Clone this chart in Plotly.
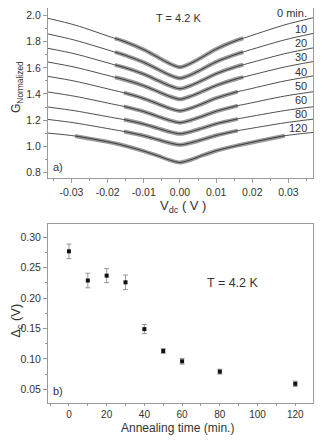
import plotly.graph_objects as go
from plotly.subplots import make_subplots

vdc = [-0.0365, -0.029, -0.018, -0.0155, -0.01, -0.006, -0.003, 0.0,
       0.003, 0.006, 0.01, 0.016, 0.0175, 0.029, 0.0368]

# normalized conductance, one curve per annealing time
times = ["0 min.", "10", "20", "30", "40", "50", "60", "80", "120"]
g_0 = [1.98, 1.928, 1.826, 1.804, 1.74, 1.68, 1.635, 1.605, 1.635, 1.68, 1.744, 1.814, 1.827, 1.93, 1.984]
g_10 = [1.86, 1.812, 1.721, 1.70, 1.642, 1.588, 1.547, 1.52, 1.547, 1.588, 1.646, 1.709, 1.722, 1.815, 1.864]
g_20 = [1.75, 1.707, 1.623, 1.604, 1.552, 1.502, 1.465, 1.44, 1.465, 1.502, 1.555, 1.613, 1.624, 1.709, 1.753]
g_30 = [1.645, 1.605, 1.528, 1.511, 1.463, 1.417, 1.383, 1.36, 1.383, 1.417, 1.465, 1.519, 1.529, 1.607, 1.648]
g_40 = [1.535, 1.498, 1.426, 1.41, 1.365, 1.323, 1.291, 1.27, 1.291, 1.323, 1.368, 1.418, 1.427, 1.50, 1.538]
g_50 = [1.415, 1.382, 1.319, 1.305, 1.265, 1.227, 1.199, 1.18, 1.199, 1.227, 1.267, 1.311, 1.319, 1.384, 1.417]
g_60 = [1.30, 1.271, 1.216, 1.204, 1.169, 1.136, 1.111, 1.095, 1.111, 1.136, 1.171, 1.209, 1.217, 1.273, 1.302]
g_80 = [1.205, 1.178, 1.125, 1.113, 1.08, 1.049, 1.026, 1.01, 1.026, 1.049, 1.082, 1.119, 1.126, 1.179, 1.207]
g_120 = [1.10, 1.078, 1.022, 1.005, 0.962, 0.925, 0.895, 0.875, 0.896, 0.927, 0.965, 1.006, 1.015, 1.08, 1.105]
curves = [g_0, g_10, g_20, g_30, g_40, g_50, g_60, g_80, g_120]
# index range of the grid covered by measured points
meas_range = [(2, 12), (2, 12), (2, 12), (2, 12), (3, 11), (3, 11), (3, 11), (3, 11), (1, 13)]
label_y = [2.023, 1.896, 1.789, 1.681, 1.571, 1.461, 1.354, 1.244, 1.137]

# panel b: gap vs annealing time
anneal = [0, 10, 20, 30, 40, 50, 60, 80, 120]
delta_c = [0.277, 0.229, 0.237, 0.226, 0.149, 0.113, 0.096, 0.079, 0.059]
delta_err = [0.012, 0.012, 0.0115, 0.012, 0.0075, 0.004, 0.0047, 0.004, 0.0044]

fnt = "Liberation Sans, Arial, sans-serif"
txt = "#333333"
axcol = "#9a9a9a"

fig = make_subplots(rows=2, cols=1)

for g, (i0, i1) in zip(curves, meas_range):
    fig.add_trace(go.Scatter(x=vdc[i0:i1 + 1], y=g[i0:i1 + 1], mode="lines",
                             line=dict(color="#9a9a9a", width=4, shape="spline", smoothing=0.8),
                             hoverinfo="skip"), row=1, col=1)
for g in curves:
    fig.add_trace(go.Scatter(x=vdc, y=g, mode="lines",
                             line=dict(color="#222222", width=0.8, shape="spline", smoothing=0.8)),
                  row=1, col=1)

fig.add_trace(go.Scatter(x=anneal, y=delta_c, mode="markers",
                         marker=dict(symbol="square", size=4, color="#111111"),
                         error_y=dict(type="data", array=delta_err, color="#8c8c8c",
                                      thickness=0.9, width=2.5)), row=2, col=1)

axis_common = dict(showline=True, linecolor=axcol, linewidth=1, mirror=True,
                   ticks="outside", ticklen=4, tickcolor=axcol, showgrid=False, zeroline=False,
                   tickfont=dict(family=fnt, size=10.5, color=txt))

fig.update_xaxes(axis_common)
fig.update_yaxes(axis_common)

fig.update_xaxes(range=[-0.0365, 0.0368], tickvals=[-0.03, -0.02, -0.01, 0.0, 0.01, 0.02, 0.03],
                 ticktext=["-0.03", "-0.02", "-0.01", "0.00", "0.01", "0.02", "0.03"],
                 minor=dict(ticks="outside", ticklen=2, tickcolor=axcol, dtick=0.005, tick0=0),
                 mirror=False, domain=[0, 1], row=1, col=1)
fig.update_yaxes(range=[0.756, 2.059], tickvals=[0.8, 1.0, 1.2, 1.4, 1.6, 1.8, 2.0],
                 ticktext=["0.8", "1.0", "1.2", "1.4", "1.6", "1.8", "2.0"],
                 minor=dict(ticks="outside", ticklen=2, tickcolor=axcol, dtick=0.1, tick0=0),
                 domain=[0.5696, 1.0], row=1, col=1)

fig.update_xaxes(range=[-11.1, 129.4], tickvals=[0, 20, 40, 60, 80, 100, 120],
                 minor=dict(ticks="outside", ticklen=2, tickcolor=axcol, dtick=10, tick0=0),
                 ticklen=2, tickfont=dict(family=fnt, size=10, color=txt),
                 domain=[0, 1], row=2, col=1)
fig.update_yaxes(range=[0.0274, 0.322], tickvals=[0.05, 0.10, 0.15, 0.20, 0.25, 0.30],
                 ticktext=["0.05", "0.10", "0.15", "0.20", "0.25", "0.30"],
                 minor=dict(ticks="outside", ticklen=2, tickcolor=axcol, dtick=0.025, tick0=0),
                 domain=[0.0, 0.4532], row=2, col=1)

ann = []
for name, y in zip(times, label_y):
    ann.append(dict(x=0.0358, y=y, xref="x", yref="y", text=name, showarrow=False,
                    xanchor="right", yanchor="middle",
                    font=dict(family=fnt, size=11, color=txt)))
ann.append(dict(x=-0.0005, y=1.98, xref="x", yref="y", text="T = 4.2 K", showarrow=False,
                font=dict(family=fnt, size=11, color=txt)))
ann.append(dict(x=-0.0337, y=0.84, xref="x", yref="y", text="a)", showarrow=False,
                font=dict(family=fnt, size=11, color=txt)))
ann.append(dict(x=87, y=0.2247, xref="x2", yref="y2", text="T = 4.2 K", showarrow=False,
                font=dict(family=fnt, size=12.5, color=txt)))
ann.append(dict(x=-5.8, y=0.0473, xref="x2", yref="y2", text="b)", showarrow=False,
                font=dict(family=fnt, size=11, color=txt)))
# axis titles
ann.append(dict(x=0.509, y=0.4987, xref="paper", yref="paper", text="V<sub>dc</sub> ( V )",
                showarrow=False, xanchor="center", yanchor="middle",
                font=dict(family=fnt, size=13, color=txt)))
ann.append(dict(x=0.49, y=-0.063, xref="paper", yref="paper", text="Annealing time (min.)",
                showarrow=False, xanchor="center", yanchor="middle",
                font=dict(family=fnt, size=12, color=txt)))
ann.append(dict(x=-0.117, y=0.80, xref="paper", yref="paper", text="G<sub>Normalized</sub>",
                showarrow=False, xanchor="center", yanchor="middle", textangle=-90,
                font=dict(family=fnt, size=12, color=txt)))
ann.append(dict(x=-0.117, y=0.208, xref="paper", yref="paper", text="Δ<sub>c</sub> (V)",
                showarrow=False, xanchor="center", yanchor="middle", textangle=-90,
                font=dict(family=fnt, size=13, color=txt)))

# page body adds an 8px margin, so the figure is drawn 8px smaller
fig.update_layout(
    width=324, height=432,
    margin=dict(l=40, r=19, t=0, b=37),
    paper_bgcolor="white", plot_bgcolor="white",
    showlegend=False,
    annotations=ann,
)

fig.write_html("out.html")
